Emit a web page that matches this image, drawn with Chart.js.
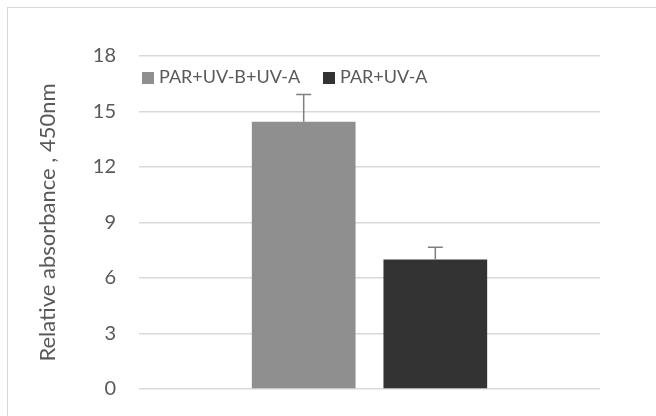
<!DOCTYPE html>
<html>
<head>
<meta charset="utf-8">
<script src="https://cdn.jsdelivr.net/npm/chart.js@4/dist/chart.umd.min.js"></script>
<style>
  html, body { margin: 0; padding: 0; background: #fff; }
  #wrap { position: relative; width: 656px; height: 416px; overflow: hidden; font-family: Lato, sans-serif; }
  #frame { position: absolute; left: 7px; top: 7px; width: 700px; height: 460px; border: 1.5px solid #d9d9d9; box-sizing: border-box; }
  canvas { position: absolute; left: 0; top: 0; }
  .item { position: absolute; top: 65px; height: 22px; line-height: 22px; font-size: 18px; color: #595959; white-space: nowrap; }
  .item i { display: inline-block; width: 12px; height: 12px; margin-right: 5px; vertical-align: -1px; }
</style>
</head>
<body>
<div id="wrap">
  <div id="frame"></div>
  <canvas id="chart" width="656" height="416"></canvas>
  <div id="legend"></div>
</div>
<script>
const categories = [""];
const seriesNames = ["PAR+UV-B+UV-A", "PAR+UV-A"];
const seriesValues = [[14.45], [7.0]];
const seriesErrors = [[15.92], [7.66]]; // top of error bar
const seriesColors = ["#8f8f8f", "#333333"];
const yTicks = [0, 3, 6, 9, 12, 15, 18];

// legend as html, sitting inside the plot like in excel
const legendX = [142, 323];
seriesNames.forEach((name, i) => {
  const d = document.createElement("div");
  d.className = "item";
  d.style.left = legendX[i] + "px";
  d.innerHTML = '<i style="background:' + seriesColors[i] + '"></i>' + name;
  document.getElementById("legend").appendChild(d);
});

// draws the upper error bars on top of the bars
const errorBars = {
  id: "errorBars",
  afterDatasetsDraw(chart) {
    const ctx = chart.ctx;
    const y = chart.scales.y;
    ctx.save();
    ctx.strokeStyle = "#7f7f7f";
    ctx.lineWidth = 1.5;
    chart.data.datasets.forEach((ds, i) => {
      const meta = chart.getDatasetMeta(i);
      meta.data.forEach((bar, j) => {
        const top = y.getPixelForValue(seriesErrors[i][j]);
        ctx.beginPath();
        ctx.moveTo(bar.x, bar.y);
        ctx.lineTo(bar.x, top);
        ctx.moveTo(bar.x - 7.5, top);
        ctx.lineTo(bar.x + 7.5, top);
        ctx.stroke();
      });
    });
    ctx.restore();
  }
};

new Chart(document.getElementById("chart").getContext("2d"), {
  type: "bar",
  data: {
    labels: categories,
    datasets: seriesNames.map((name, i) => ({
      label: name,
      data: seriesValues[i],
      backgroundColor: seriesColors[i],
      borderWidth: 0,
      categoryPercentage: 0.571,
      barPercentage: 0.788,
    })),
  },
  options: {
    responsive: false,
    animation: false,
    layout: { padding: { left: 0, right: 56, top: 56, bottom: 27 } },
    plugins: {
      tooltip: { enabled: false },
      legend: { display: false },
    },
    scales: {
      x: { display: false },
      y: {
        min: 0,
        max: 18,
        afterBuildTicks: (s) => { s.ticks = yTicks.map((v) => ({ value: v })); },
        afterFit: (s) => { s.width = 139; },
        border: { display: false },
        // invisible tick marks give the gap between labels and grid
        grid: { color: "#d9d9d9", lineWidth: 1.5, drawTicks: true, tickLength: 23, tickColor: "rgba(0,0,0,0)" },
        ticks: {
          padding: 0,
          color: "#595959",
          font: { family: "Lato", size: 20 },
        },
        title: {
          display: true,
          text: "Relative absorbance , 450nm",
          color: "#595959",
          font: { family: "Lato", size: 22 },
          padding: { top: 35, bottom: 0 },
        },
      },
    },
  },
  plugins: [errorBars],
});
</script>
</body>
</html>
